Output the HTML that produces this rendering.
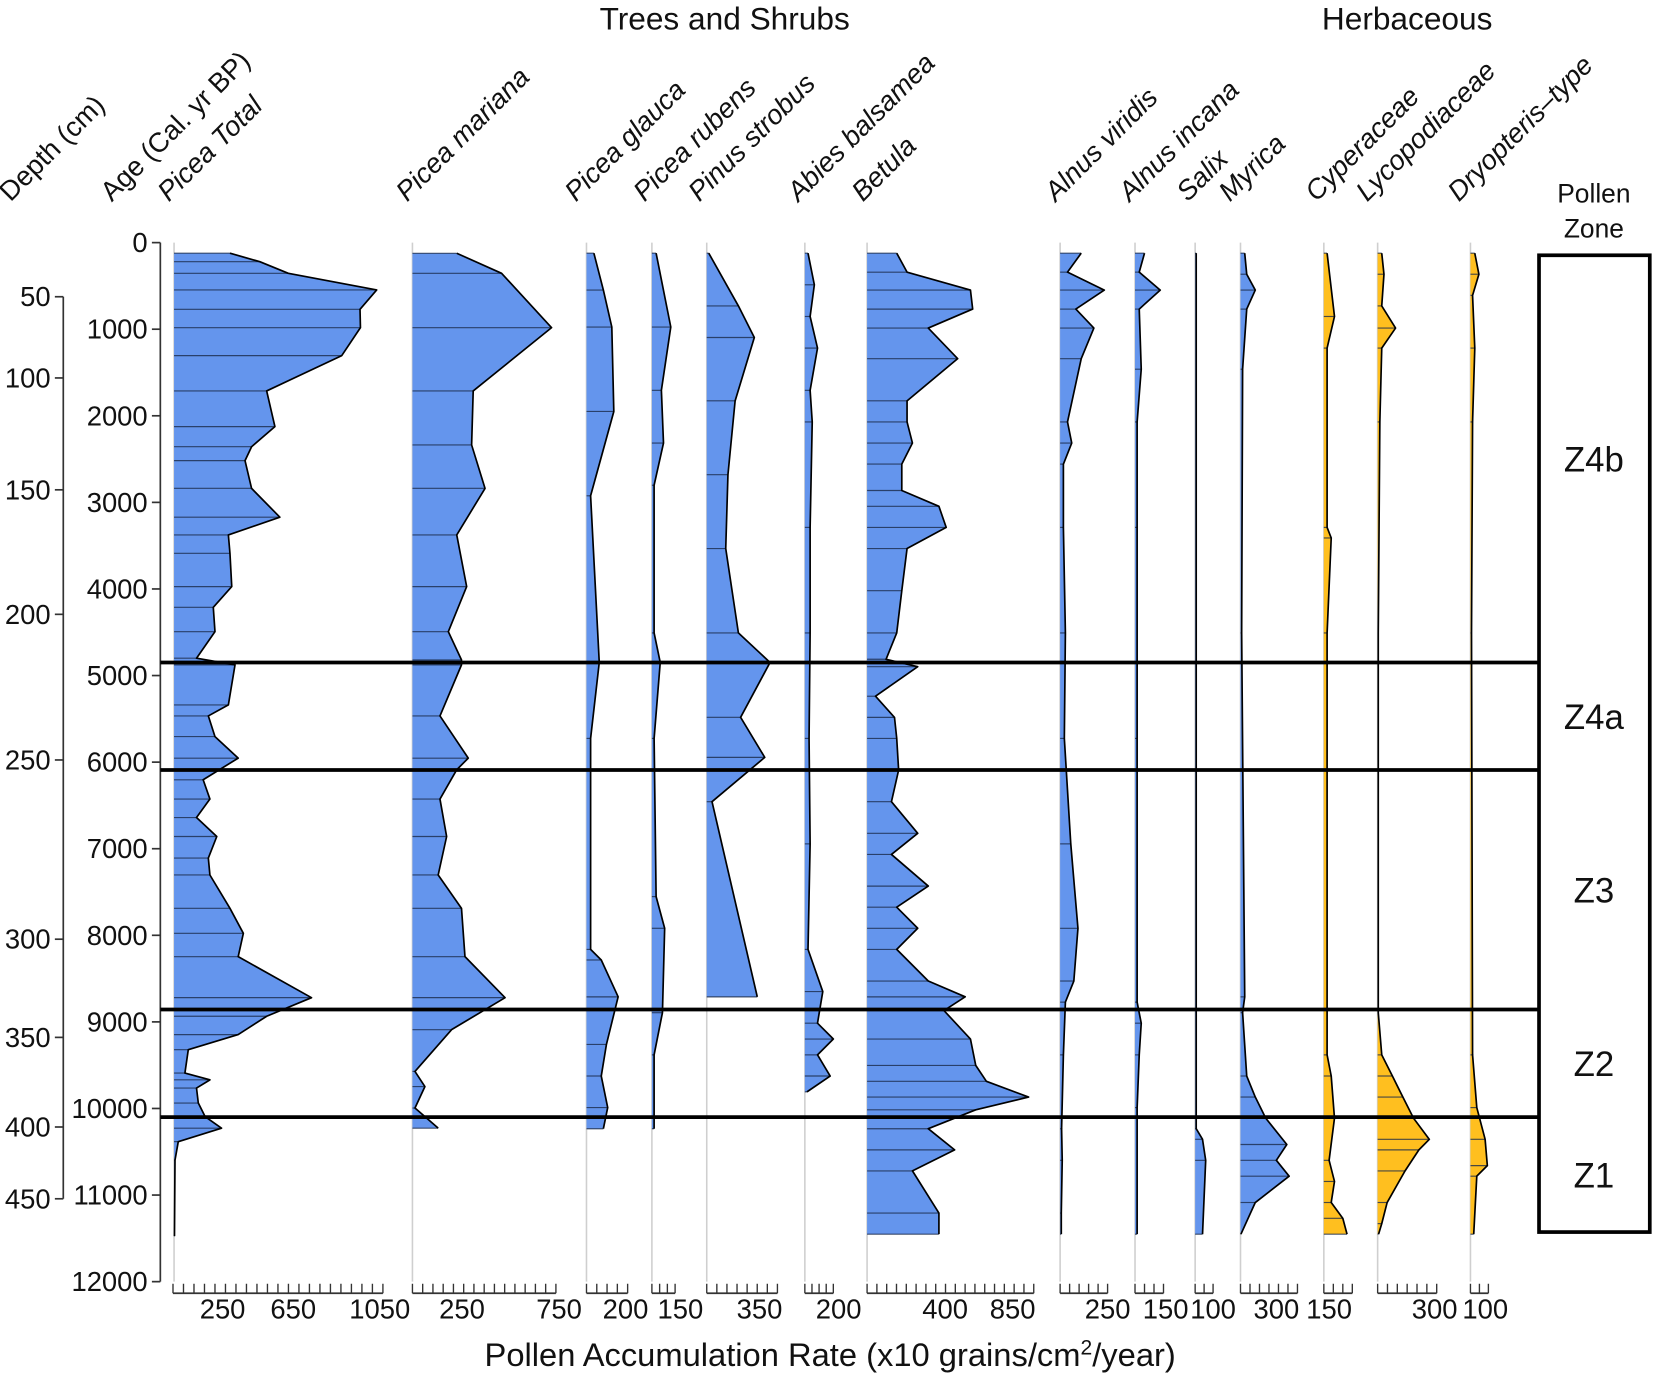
<!DOCTYPE html>
<html><head><meta charset="utf-8"><style>
html,body{margin:0;padding:0;background:#fff}
svg{display:block}
text{font-family:"Liberation Sans",Arial,sans-serif;fill:#111}
</style></head><body>
<svg id="chart" width="1654" height="1375" viewBox="0 0 1568 1303.5" xmlns="http://www.w3.org/2000/svg"></svg>
<script>
// ---- data (ages in cal yr BP, values in x10 grains/cm2/year) ----
const ageTicks = [0,1000,2000,3000,4000,5000,6000,7000,8000,9000,10000,11000,12000];
const depthLabels = [50,100,150,200,250,300,350,400,450];
const depthAges = [625,1563,2855,4293,5975,8045,9179,10214,11043];
const zoneBoundaryAges = [4849,6091,8857,10100];
const zoneNames = ["Z4b","Z4a","Z3","Z2","Z1"];

const piceaTotalAges = [122,220,354,547,770,982,1305,1713,2125,2357,2518,2838,3171,3376,3588,3973,4212,4493,4800,4877,5339,5467,5705,5954,6204,6427,6640,6859,7108,7303,7688,7977,8247,8720,8935,9147,9321,9591,9669,9764,9938,10094,10228,10383,10596,11475];
const piceaTotalVals = [279,428,570,1011,928,930,837,462,503,387,354,387,528,271,279,288,196,204,112,304,271,171,204,320,145,179,112,213,171,179,279,346,320,686,462,320,71,54,179,112,121,155,237,21,5,2];
const piceaMarianaAges = [123,354,982,1713,2337,2838,3376,3973,4493,4820,4877,5467,5954,6088,6427,6859,7303,7688,8247,8720,9090,9572,9747,9995,10228];
const piceaMarianaVals = [232,467,729,318,310,380,232,284,188,257,257,144,292,232,144,179,135,257,275,485,205,13,65,13,135];
const piceaGlaucaAges = [122,548,975,1950,2924,4849,5726,8163,8285,8711,9260,9625,9990,10234];
const piceaGlaucaVals = [36,82,123,133,20,62,20,20,72,154,97,72,103,82];
const piceaRubensAges = [122,975,1706,2315,2802,4508,4849,5726,7553,7919,8894,9381,10234];
const piceaRubensVals = [27,122,61,75,14,14,54,14,27,82,68,14,14];
const pinusAges = [122,731,1096,1827,2680,3533,4508,4849,5482,5945,6457,8711];
const pinusVals = [10,157,236,141,105,94,157,314,168,288,26,251];
const abiesAges = [122,487,853,1218,1706,2071,3289,4508,5726,6944,8163,8650,9015,9198,9381,9625,9808];
const abiesVals = [22,67,37,89,37,52,37,37,30,37,22,126,89,200,89,178,15];
const betulaAges = [122,341,548,768,987,1340,1827,2071,2315,2558,2863,3046,3289,3533,4020,4508,4812,4898,5239,5483,5726,6091,6457,6822,7066,7432,7675,7919,8163,8528,8711,8869,9198,9503,9686,9868,10015,10234,10478,10721,11208,11452];
const betulaVals = [151,204,527,538,312,462,204,204,231,177,177,366,403,204,177,151,97,258,43,140,151,161,124,258,124,312,151,258,151,312,500,392,527,554,608,823,554,312,446,231,366,366];
const alnusViridisAges = [122,341,548,768,987,1340,2071,2315,2558,3289,4508,5726,6944,7919,8528,8772,9381,10234,10599,11208,11452];
const alnusViridisVals = [111,39,233,83,178,111,39,61,17,17,28,22,56,94,72,28,17,8,11,6,6];
const alnusIncanaAges = [122,341,548,768,1462,2071,3289,5726,8772,9015,9381,9990,11452];
const alnusIncanaVals = [50,22,133,22,33,11,11,11,11,33,22,11,11];
const salixAges = [122,10234,10356,10599,11452];
const salixVals = [6,6,41,59,41];
const myricaAges = [122,365,548,768,1462,4508,8711,8894,9625,9868,10112,10416,10599,10782,11086,11452];
const myricaVals = [22,33,78,33,11,6,22,11,33,78,133,244,189,256,78,2];
const cyperAges = [122,853,1218,3289,3411,4508,9381,9625,10112,10599,10843,11086,11269,11452];
const cyperVals = [17,56,17,17,39,17,17,39,56,28,56,39,100,122];
const lycoAges = [122,365,731,987,1218,2071,4508,8894,9381,9625,9868,10112,10356,10478,10721,11086,11330,11452];
const lycoVals = [21,32,21,91,21,11,3,3,21,75,128,182,262,209,139,48,21,5];
const dryoAges = [122,365,609,1218,2071,4508,9381,9990,10356,10660,10782,11452];
const dryoVals = [24,47,12,24,12,6,12,35,82,94,35,18];

// ---- layout ----
const svg = document.getElementById('chart');
const NS = 'http://www.w3.org/2000/svg';
const Y0 = 230, Y1 = 1215;
function yAge(a){ return Y0 + (a/12000)*(Y1-Y0); }
function mk(tag, attrs, parent){ const e=document.createElementNS(NS,tag); for(const k in attrs) e.setAttribute(k,attrs[k]); (parent||svg).appendChild(e); return e; }

const BLUE='#6495ed', GOLD='#ffbf1f';
const taxa = [
 {name:'Picea Total', key:'picea-total', base:165, scale:0.19, ages:piceaTotalAges, vals:piceaTotalVals, c:BLUE, lx:160},
 {name:'Picea mariana', key:'picea-mariana', base:391, scale:0.181, ages:piceaMarianaAges, vals:piceaMarianaVals, c:BLUE, lx:386},
 {name:'Picea glauca', key:'picea-glauca', base:556, scale:0.195, ages:piceaGlaucaAges, vals:piceaGlaucaVals, c:BLUE, lx:546},
 {name:'Picea rubens', key:'picea-rubens', base:618, scale:0.147, ages:piceaRubensAges, vals:piceaRubensVals, c:BLUE, lx:611},
 {name:'Pinus strobus', key:'pinus-strobus', base:670, scale:0.191, ages:pinusAges, vals:pinusVals, c:BLUE, lx:663},
 {name:'Abies balsamea', key:'abies-balsamea', base:763, scale:0.135, ages:abiesAges, vals:abiesVals, c:BLUE, lx:757},
 {name:'Betula', key:'betula', base:822, scale:0.186, ages:betulaAges, vals:betulaVals, c:BLUE, lx:818},
 {name:'Alnus viridis', key:'alnus-viridis', base:1005, scale:0.18, ages:alnusViridisAges, vals:alnusViridisVals, c:BLUE, lx:1001},
 {name:'Alnus incana', key:'alnus-incana', base:1076, scale:0.18, ages:alnusIncanaAges, vals:alnusIncanaVals, c:BLUE, lx:1071},
 {name:'Salix', key:'salix', base:1133, scale:0.17, ages:salixAges, vals:salixVals, c:BLUE, lx:1126},
 {name:'Myrica', key:'myrica', base:1176, scale:0.18, ages:myricaAges, vals:myricaVals, c:BLUE, lx:1166},
 {name:'Cyperaceae', key:'cyperaceae', base:1255, scale:0.18, ages:cyperAges, vals:cyperVals, c:GOLD, lx:1248},
 {name:'Lycopodiaceae', key:'lycopodiaceae', base:1306, scale:0.187, ages:lycoAges, vals:lycoVals, c:GOLD, lx:1296},
 {name:'Dryopteris\u2013type', key:'dryopteris', base:1394, scale:0.17, ages:dryoAges, vals:dryoVals, c:GOLD, lx:1383}
];

// titles
let t;
t=mk('text',{x:687,y:28,'font-size':30,'text-anchor':'middle'}); t.textContent='Trees and Shrubs';


t=mk('text',{x:1334,y:28,'font-size':30,'text-anchor':'middle'}); t.textContent='Herbaceous';


t=mk('text',{x:1511,y:192,'font-size':25,'text-anchor':'middle'}); t.textContent='Pollen';


t=mk('text',{x:1511,y:225,'font-size':25,'text-anchor':'middle'}); t.textContent='Zone';



function rotLabel(txt,x,y,italic,name){
  const e=mk('text',{x:x,y:y,'font-size':26,transform:`rotate(-45 ${x} ${y})`});
  if(italic) e.setAttribute('font-style','italic');
  e.textContent=txt;
  
  
}
rotLabel('Depth (cm)',10,192,false,'depth-axis-title');
rotLabel('Age (Cal. yr BP)',106,192,false,'age-axis-title');

// grey baselines and taxa
taxa.forEach(tx=>{
  const g=mk('g',{});
  
  
  mk('line',{x1:tx.base,x2:tx.base,y1:Y0,y2:Y1,stroke:'#cfcfcf','stroke-width':1.5},g);
  const xv=v=>tx.base+v*tx.scale;
  const a0=tx.ages[0], aN=tx.ages[tx.ages.length-1];
  let d=`M${tx.base},${yAge(a0)}`;
  tx.ages.forEach((a,i)=>{ d+=` L${xv(tx.vals[i]).toFixed(1)},${yAge(a).toFixed(1)}`; });
  d+=` L${tx.base},${yAge(aN)} Z`;
  const poly=mk('path',{d:d,fill:tx.c,stroke:'none'},g);
  
  
  tx.ages.forEach((a,i)=>{
    const ln=mk('line',{x1:tx.base,x2:xv(tx.vals[i]),y1:yAge(a),y2:yAge(a),stroke:'#1a2a4a','stroke-width':1.1,'stroke-opacity':0.8},g);
    
    
  });
  let od=''; tx.ages.forEach((a,i)=>{ od+=(i?' L':'M')+xv(tx.vals[i]).toFixed(1)+','+yAge(a).toFixed(1); });
  mk('path',{d:od,fill:'none',stroke:'#000','stroke-width':1.6,'stroke-linejoin':'round'},g);
  rotLabel(tx.name,tx.lx,192,true,tx.key+'-label');
});

// bottom axes
const axisDefs=[[164,363,21],[391,527,15],[556,595,5],[618,640,4],[670,737,8],[763,790,5],[822,980,18],[1005,1050,6],[1076,1103,4],[1133,1150,3],[1176,1230,7],[1255,1282,4],[1306,1362,7],[1394,1411,3]];
const axisLabelText=['250','650','1050','250','750','200','150','350','200','400','850','250','150','100','300','150','300','100'];
const axisLabelX=[211,278,360,438,530,593,645,720,795,896,960,1050,1105,1150,1210,1260,1360,1408];
axisDefs.forEach((ad,i)=>{
  const g=mk('g',{});
  
  
  mk('line',{x1:ad[0],x2:ad[1],y1:1226,y2:1226,stroke:'#333','stroke-width':1.6},g);
  for(let k=0;k<ad[2];k++){ const x=ad[0]+(ad[1]-ad[0])*k/(ad[2]-1); mk('line',{x1:x,x2:x,y1:1217,y2:1226,stroke:'#333','stroke-width':1.3},g); }
});
axisLabelText.forEach((s,i)=>{
  const e=mk('text',{x:axisLabelX[i],y:1250,'font-size':26,'text-anchor':'middle'}); e.textContent=s;
  
  
});
t=mk('text',{x:787,y:1295,'font-size':31,'text-anchor':'middle'});
t.innerHTML='Pollen Accumulation Rate (x10 grains/cm<tspan dy="-11" font-size="20">2</tspan><tspan dy="11">/year)</tspan>';



// age axis
mk('line',{x1:152,x2:152,y1:Y0,y2:Y1,stroke:'#333','stroke-width':1.6});
ageTicks.forEach(a=>{
  const y=yAge(a);
  mk('line',{x1:144,x2:152,y1:y,y2:y,stroke:'#333','stroke-width':1.6});
  const e=mk('text',{x:140,y:y+9,'font-size':26,'text-anchor':'end'}); e.textContent=a;
  
  
});
// depth axis
mk('line',{x1:60,x2:60,y1:yAge(depthAges[0]),y2:yAge(depthAges[depthAges.length-1]),stroke:'#333','stroke-width':1.6});
depthLabels.forEach((dl,i)=>{
  const y=yAge(depthAges[i]);
  mk('line',{x1:52,x2:60,y1:y,y2:y,stroke:'#333','stroke-width':1.6});
  const e=mk('text',{x:48,y:y+9,'font-size':26,'text-anchor':'end'}); e.textContent=dl;
  
  
});

// zone lines and box
zoneBoundaryAges.forEach(a=>{
  const l=mk('line',{x1:152,x2:1460,y1:yAge(a),y2:yAge(a),stroke:'#000','stroke-width':3.5});
  
  
});
const bx=mk('rect',{x:1459,y:242,width:105,height:926,fill:'none',stroke:'#000','stroke-width':3.5});


const zb=[yAge(0)+12].concat(zoneBoundaryAges.map(yAge)).concat([1168]);
zoneNames.forEach((z,i)=>{
  const e=mk('text',{x:1511,y:(zb[i]+zb[i+1])/2+12,'font-size':33,'text-anchor':'middle'}); e.textContent=z;
  
  
});
</script>
</body></html>
